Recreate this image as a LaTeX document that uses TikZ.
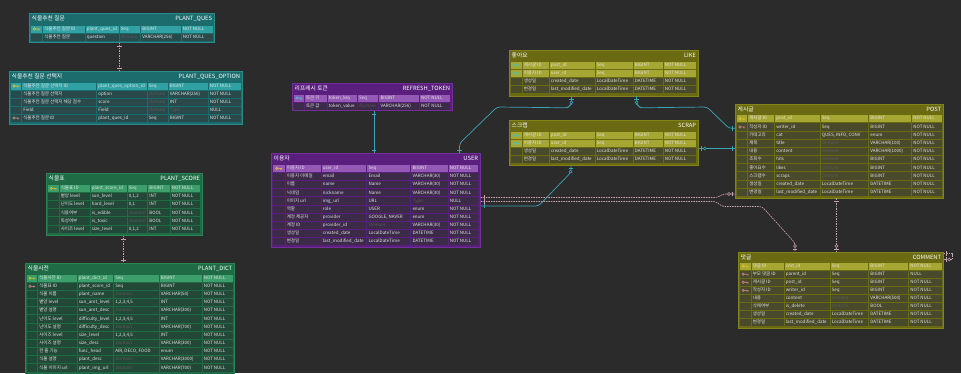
\documentclass[tikz,border=0pt]{standalone}
\usepackage{fontspec}
\setmainfont{Noto Sans CJK KR}
\newfontfamily\slantfont{Noto Sans CJK KR}[FakeSlant=0.2]
\usetikzlibrary{calc, decorations.markings}

\definecolor{canvas}{HTML}{2B2B2B}
\definecolor{tealhead}{HTML}{1C6C6E}
\definecolor{tealline}{HTML}{2A8A8C}
\definecolor{tealpk}{HTML}{31A2A4}
\definecolor{tealrow}{HTML}{29494B}
\definecolor{greenhead}{HTML}{1E6B45}
\definecolor{greenline}{HTML}{2B8656}
\definecolor{greenpk}{HTML}{3C9E6B}
\definecolor{greenrow}{HTML}{234837}
\definecolor{purphead}{HTML}{5A1F7C}
\definecolor{purpline}{HTML}{722F98}
\definecolor{purppk}{HTML}{9458B5}
\definecolor{purprow}{HTML}{3B2A48}
\definecolor{olivehead}{HTML}{6A6A12}
\definecolor{oliveline}{HTML}{84841C}
\definecolor{olivepk}{HTML}{A6A632}
\definecolor{oliverow}{HTML}{49492B}
\definecolor{cellfont}{HTML}{E4E4E4}
\definecolor{domfont}{HTML}{5C5C5C}
\definecolor{keyk}{HTML}{E8C22C}
\definecolor{keyf}{HTML}{DA8A8C}
\definecolor{keyb}{HTML}{3CC6D6}
\definecolor{relteal}{HTML}{3BA7B6}
\definecolor{relpink}{HTML}{C9A0B0}

\tikzset{
  tablebox/.style={draw=bx, fill=hd, line width=0.8pt, inner sep=0pt, anchor=north west},
  headtext/.style={font=\fontsize{5.8}{6}\selectfont, text=white, inner sep=0pt},
  celltext/.style={font=\fontsize{4.5}{5}\selectfont, text=cellfont, inner sep=0pt, anchor=west,
    text height=3.3pt, text depth=0.9pt},
  teal theme/.code={\colorlet{hd}{tealhead}\colorlet{bx}{tealline}\colorlet{fillk}{tealpk}%
    \colorlet{fillb}{tealpk}\colorlet{fillf}{tealrow}\colorlet{filln}{tealrow}},
  green theme/.code={\colorlet{hd}{greenhead}\colorlet{bx}{greenline}\colorlet{fillk}{greenpk}%
    \colorlet{fillb}{greenpk}\colorlet{fillf}{greenrow}\colorlet{filln}{greenrow}},
  purple theme/.code={\colorlet{hd}{purphead}\colorlet{bx}{purpline}\colorlet{fillk}{purppk}%
    \colorlet{fillb}{purppk}\colorlet{fillf}{purprow}\colorlet{filln}{purprow}},
  olive theme/.code={\colorlet{hd}{olivehead}\colorlet{bx}{oliveline}\colorlet{fillk}{olivepk}%
    \colorlet{fillb}{olivepk}\colorlet{fillf}{oliverow}\colorlet{filln}{oliverow}},
  idrel/.style={color=relteal, line width=0.7pt},
  nonidrel/.style={color=relpink, line width=0.7pt, dash pattern=on 1.6pt off 0.9pt},
  bar mark/.style={postaction={decorate, decoration={markings, mark=at position #1 with
    {\draw[solid, line width=0.6pt] (0pt,-2.3pt) -- (0pt,2.3pt);}}}},
  ring mark/.style={postaction={decorate, decoration={markings, mark=at position #1 with
    {\draw[solid, line width=0.6pt, fill=canvas] (0pt,0pt) circle (1.5pt);}}}}
}

\newcounter{rowno}
\newcommand{\setcols}[7]{\def\ca{#1}\def\cb{#2}\def\cc{#3}\def\cd{#4}\def\ce{#5}\def\cf{#6}\def\cg{#7}%
  \def\colspec{#1/#2,#2/#3,#3/#4,#4/#5,#5/#6,#6/#7}}
\newcommand{\setrows}[2]{\def\rowstart{#1}\def\rowstep{#2}}
\newcommand{\dom}{{\color{domfont}\slantfont Domain}}
\newcommand{\typ}{{\color{domfont}\slantfont Type}}

% table frame with its two titles
\newcommand{\erdtable}[7]{%
  \def\tabname{#1}\setcounter{rowno}{0}%
  \node[tablebox, minimum width=#4-#2, minimum height=#5-#3] (#1) at (#2,#3) {};
  \node[headtext, anchor=west] (#1-kr) at ($(#1.north west)+(2.5,5.5)$) {#6};
  \node[headtext, anchor=east] (#1-en) at ($(#1.north east)+(-2.5,5.5)$) {#7};
}

% small key glyph in the first column
\newcommand{\keyicon}[1]{%
  \pgfmathsetmacro\kx{(\ca+\cb)/2}%
  \draw[draw=key#1, line width=0.55pt] (\kx-2,\rowmid) circle (1.2)
    (\kx-0.8,\rowmid) -- (\kx+2.8,\rowmid) (\kx+1.6,\rowmid) -- (\kx+1.6,\rowmid+1.2)
    (\kx+2.8,\rowmid) -- (\kx+2.8,\rowmid+1.4);
}

% one attribute row: kind (k/f/b/n), name, column, domain, type, null
\newcommand{\erdrow}[6]{%
  \pgfmathsetmacro\rowtop{\rowstart+\therowno*\rowstep}%
  \pgfmathsetmacro\rowmid{\rowtop+\rowstep/2}%
  \foreach \l/\r in \colspec {\fill[fill=fill#1] (\l+0.5,\rowtop+0.5) rectangle (\r-0.5,\rowtop+\rowstep-0.5);}
  \if#1n\else\keyicon{#1}\fi
  \node[celltext] (\tabname-\therowno-kr) at (\cb+1.6,\rowmid) {#2};
  \node[celltext] (\tabname-\therowno-col) at (\cc+1.6,\rowmid) {#3};
  \node[celltext] (\tabname-\therowno-dom) at (\cd+1.6,\rowmid) {#4};
  \node[celltext] (\tabname-\therowno-type) at (\ce+1.6,\rowmid) {#5};
  \node[celltext] (\tabname-\therowno-null) at (\cf+1.6,\rowmid) {#6};
  \stepcounter{rowno}%
}

\begin{document}
\begin{tikzpicture}[x=1pt,y=-1pt]
\useasboundingbox (0,0) rectangle (961,373);
\clip (0,0) rectangle (961,373);
\fill[canvas] (0,0) rectangle (961,373);

% plant questions
\begin{scope}[teal theme]
  \erdtable{plantques}{29}{13}{214}{42}{식물추천 질문}{PLANT\_QUES}
  \setcols{30.5}{42.5}{85}{119}{140.5}{181}{213}
  \setrows{25}{8}
  \erdrow{k}{식물추천 질문 ID}{plant\_ques\_id}{Seq}{BIGINT}{NOT NULL}
  \erdrow{n}{식물추천 질문}{question}{\dom}{VARCHAR(256)}{NOT NULL}

  \erdtable{plantqo}{9}{71}{242}{124}{식물추천 질문 선택지}{PLANT\_QUES\_OPTION}
  \setcols{10.5}{21.5}{96.5}{147}{168}{208}{241}
  \setrows{82}{8}
  \erdrow{k}{식물추천 질문 선택지 ID}{plant\_ques\_option\_id}{Seq}{BIGINT}{NOT NULL}
  \erdrow{n}{식물추천 질문 선택지}{option}{\dom}{VARCHAR(256)}{NOT NULL}
  \erdrow{n}{식물추천 질문 선택지 해당 점수}{score}{\dom}{INT}{NOT NULL}
  \erdrow{n}{Field}{Field}{\dom}{\typ}{NULL}
  \erdrow{f}{식물추천 질문 ID}{plant\_ques\_id}{Seq}{BIGINT}{NOT NULL}
\end{scope}

% plant score and dictionary
\begin{scope}[green theme]
  \erdtable{plantscore}{46}{173}{202}{235}{식물표}{PLANT\_SCORE}
  \setcols{47.5}{59}{90}{127}{147.5}{170}{200.5}
  \setrows{184.3}{8.17}
  \erdrow{k}{식물표 ID}{plant\_score\_id}{Seq}{BIGINT}{NOT NULL}
  \erdrow{n}{볕양 level}{sun\_level}{0,1,2}{INT}{NOT NULL}
  \erdrow{n}{난이도 level}{hard\_level}{0,1}{INT}{NOT NULL}
  \erdrow{n}{식용여부}{is\_edible}{\dom}{BOOL}{NOT NULL}
  \erdrow{n}{독성여부}{is\_toxic}{\dom}{BOOL}{NOT NULL}
  \erdrow{n}{사이즈 level}{size\_level}{0,1,2}{INT}{NOT NULL}

  \erdtable{plantdict}{25}{263}{234}{374}{식물사전}{PLANT\_DICT}
  \setcols{26.5}{37.5}{77}{113.5}{159}{202}{233}
  \setrows{274}{8.17}
  \erdrow{k}{식물사전 ID}{plant\_dict\_id}{Seq}{BIGINT}{NOT NULL}
  \erdrow{f}{식물표 ID}{plant\_score\_id}{Seq}{BIGINT}{NOT NULL}
  \erdrow{n}{식물 이름}{plant\_name}{\dom}{VARCHAR(50)}{NOT NULL}
  \erdrow{n}{볕양 level}{sun\_amt\_level}{1,2,3,4,5}{INT}{NOT NULL}
  \erdrow{n}{볕양 설명}{sun\_amt\_desc}{\dom}{VARCHAR(300)}{NOT NULL}
  \erdrow{n}{난이도 level}{difficulty\_level}{1,2,3,4,5}{INT}{NOT NULL}
  \erdrow{n}{난이도 설명}{difficulty\_desc}{\dom}{VARCHAR(700)}{NOT NULL}
  \erdrow{n}{사이즈 level}{size\_level}{1,2,3,4,5}{INT}{NOT NULL}
  \erdrow{n}{사이즈 설명}{size\_desc}{\dom}{VARCHAR(300)}{NOT NULL}
  \erdrow{n}{한 줄 기능}{func\_head}{AIR, DECO, FOOD}{enum}{NOT NULL}
  \erdrow{n}{식물 설명}{plant\_desc}{\dom}{VARCHAR(3000)}{NOT NULL}
  \erdrow{n}{식물 이미지 url}{plant\_img\_url}{\dom}{VARCHAR(700)}{NOT NULL}
\end{scope}

% users and tokens
\begin{scope}[purple theme]
  \erdtable{refresh}{292}{83}{452}{110}{리프레시 토큰}{REFRESH\_TOKEN}
  \setcols{293.5}{304.3}{327}{357.3}{378.7}{419.3}{450.5}
  \setrows{94}{8}
  \erdrow{b}{토큰 키}{token\_key}{Seq}{BIGINT}{NOT NULL}
  \erdrow{n}{토큰 값}{token\_value}{\dom}{VARCHAR(256)}{NOT NULL}

  \erdtable{user}{271}{153}{480}{247}{이용자}{USER}
  \setcols{272.5}{285}{321}{366.7}{410.7}{448}{478.5}
  \setrows{164.3}{8.15}
  \erdrow{k}{이용자 ID}{user\_id}{Seq}{BIGINT}{NOT NULL}
  \erdrow{n}{이용자 이메일}{email}{Email}{VARCHAR(30)}{NOT NULL}
  \erdrow{n}{이름}{name}{Name}{VARCHAR(30)}{NOT NULL}
  \erdrow{n}{닉네임}{nickname}{Name}{VARCHAR(30)}{NOT NULL}
  \erdrow{n}{이미지 url}{img\_url}{URL}{\typ}{NULL}
  \erdrow{n}{역할}{role}{USER}{enum}{NOT NULL}
  \erdrow{n}{계정 제공자}{provider}{GOOGLE, NAVER}{enum}{NOT NULL}
  \erdrow{n}{계정 ID}{provider\_id}{\dom}{VARCHAR(30)}{NOT NULL}
  \erdrow{n}{생성일}{created\_date}{LocalDateTime}{DATETIME}{NOT NULL}
  \erdrow{n}{변경일}{last\_modified\_date}{LocalDateTime}{DATETIME}{NOT NULL}
\end{scope}

% board
\begin{scope}[olive theme]
  \erdtable{like}{509}{50}{698}{95.5}{좋아요}{LIKE}
  \setcols{510.5}{522}{549}{595}{633}{663}{696.5}
  \setrows{61}{8.1}
  \erdrow{b}{게시글 ID}{post\_id}{Seq}{BIGINT}{NOT NULL}
  \erdrow{b}{이용자 ID}{user\_id}{Seq}{BIGINT}{NOT NULL}
  \erdrow{n}{생성일}{created\_date}{LocalDateTime}{DATETIME}{NOT NULL}
  \erdrow{n}{변경일}{last\_modified\_date}{LocalDateTime}{DATETIME}{NOT NULL}

  \erdtable{scrap}{509}{120}{698}{165}{스크랩}{SCRAP}
  \setcols{510.5}{522}{549}{595}{633}{663}{696.5}
  \setrows{131.3}{8.1}
  \erdrow{b}{게시글 ID}{post\_id}{Seq}{BIGINT}{NOT NULL}
  \erdrow{b}{이용자 ID}{user\_id}{Seq}{BIGINT}{NOT NULL}
  \erdrow{n}{생성일}{created\_date}{LocalDateTime}{DATETIME}{NOT NULL}
  \erdrow{n}{변경일}{last\_modified\_date}{LocalDateTime}{DATETIME}{NOT NULL}

  \erdtable{post}{735}{104}{943}{197.5}{게시글}{POST}
  \setcols{736.5}{747.5}{774.5}{820}{868.5}{911.5}{942}
  \setrows{114.7}{8.17}
  \erdrow{k}{게시글 ID}{post\_id}{Seq}{BIGINT}{NOT NULL}
  \erdrow{f}{작성자 ID}{writer\_id}{Seq}{BIGINT}{NOT NULL}
  \erdrow{n}{카테고리}{cat}{QUES, INFO, CONV}{enum}{NOT NULL}
  \erdrow{n}{제목}{title}{\dom}{VARCHAR(100)}{NOT NULL}
  \erdrow{n}{내용}{content}{\dom}{VARCHAR(1000)}{NOT NULL}
  \erdrow{n}{조회수}{hits}{\dom}{BIGINT}{NOT NULL}
  \erdrow{n}{좋아요수}{likes}{\dom}{BIGINT}{NOT NULL}
  \erdrow{n}{스크랩수}{scraps}{\dom}{BIGINT}{NOT NULL}
  \erdrow{n}{생성일}{created\_date}{LocalDateTime}{DATETIME}{NOT NULL}
  \erdrow{n}{변경일}{last\_modified\_date}{LocalDateTime}{DATETIME}{NOT NULL}

  \erdtable{comment}{738}{252}{943}{328}{댓글}{COMMENT}
  \setcols{739.5}{751}{784}{830}{868.5}{908.5}{942}
  \setrows{262}{8.1}
  \erdrow{k}{댓글 ID}{cmt\_id}{Seq}{BIGINT}{NOT NULL}
  \erdrow{f}{부모 댓글 ID}{parent\_id}{Seq}{BIGINT}{NULL}
  \erdrow{f}{게시글 ID}{post\_id}{Seq}{BIGINT}{NOT NULL}
  \erdrow{f}{작성자 ID}{writer\_id}{Seq}{BIGINT}{NOT NULL}
  \erdrow{n}{내용}{content}{\dom}{VARCHAR(500)}{NOT NULL}
  \erdrow{n}{삭제여부}{is\_delete}{\dom}{BOOL}{NOT NULL}
  \erdrow{n}{생성일}{created\_date}{LocalDateTime}{DATETIME}{NOT NULL}
  \erdrow{n}{변경일}{last\_modified\_date}{LocalDateTime}{DATETIME}{NOT NULL}
\end{scope}

% relations
\coordinate (ques-opt) at ($(plantques.south west)+(90.5,0)$);
\draw[nonidrel, bar mark=3pt, bar mark=-3pt] (ques-opt) -- (ques-opt |- plantqo.north);

\coordinate (score-dict) at ($(plantscore.south west)+(77.5,0)$);
\draw[nonidrel, bar mark=3pt, bar mark=-3pt] (score-dict) -- (score-dict |- plantdict.north);

\coordinate (token-user) at ($(refresh.south west)+(82,0)$);
\draw[idrel, bar mark=3pt, bar mark=-3pt] (token-user) -- (token-user |- user.north);

\coordinate (like-user) at ($(like.south west)+(62.5,0)$);
\coordinate (user-like) at ($(user.north west)+(188.5,0)$);
\draw[idrel, rounded corners=3pt, bar mark=2.5pt, ring mark=6pt, bar mark=-3pt]
  (like-user) -- ++(0,8) -- ++(-4,3.5) -- (497,107) -- ($(user-like)+(0,-9.5)$) -- (user-like);

\coordinate (like-post) at ($(like.south west)+(127.5,0)$);
\coordinate (post-like) at ($(post.north west)+(0,24.3)$);
\draw[idrel, rounded corners=3pt, bar mark=2.5pt, ring mark=6pt, bar mark=-3pt]
  (like-post) -- ++(0,8) -- ++(4,3.5) -- (707,107) -- ($(post-like)+(-6,0)$) -- (post-like);

\coordinate (scrap-post) at ($(scrap.north east)+(0,28.5)$);
\draw[idrel, bar mark=2.5pt, ring mark=6pt, bar mark=-3pt] (scrap-post) -- (scrap-post -| post.west);

\coordinate (scrap-user) at ($(scrap.south west)+(62,0)$);
\coordinate (user-scrap) at ($(user.north east)+(0,53)$);
\draw[idrel, rounded corners=3pt, bar mark=2.5pt, ring mark=6pt, bar mark=-3pt]
  (scrap-user) -- ++(0,6.5) -- (538.5,206) -- (user-scrap);

\coordinate (user-post) at ($(user.north east)+(0,44.5)$);
\coordinate (post-user) at ($(post.north west)+(0,90)$);
\draw[nonidrel, rounded corners=3pt, bar mark=3pt, ring mark=-6pt, bar mark=-2.5pt]
  (user-post) -- (717,197.5) -- (723,194) -- (post-user);

\coordinate (user-cmt) at ($(user.north east)+(0,48.5)$);
\coordinate (cmt-user) at ($(comment.north west)+(57,0)$);
\draw[nonidrel, rounded corners=3pt, bar mark=3pt, ring mark=-6pt, bar mark=-2.5pt]
  (user-cmt) -- (716,201.5) -- (722,206.5) -- (762,206.5) -- ($(cmt-user)+(0,-9)$) -- (cmt-user);

\coordinate (post-cmt) at ($(post.south west)+(101.5,0)$);
\draw[nonidrel, bar mark=3pt, ring mark=-6pt, bar mark=-2.5pt] (post-cmt) -- (post-cmt |- comment.north);

\coordinate (cmt-self) at ($(comment.north east)+(0,1.5)$);
\draw[nonidrel, bar mark=2.5pt, ring mark=-5.5pt, bar mark=-2.5pt]
  (cmt-self) -- ++(8.5,0) -- ++(0,6) -- ++(-8.5,0);
\end{tikzpicture}
\end{document}
